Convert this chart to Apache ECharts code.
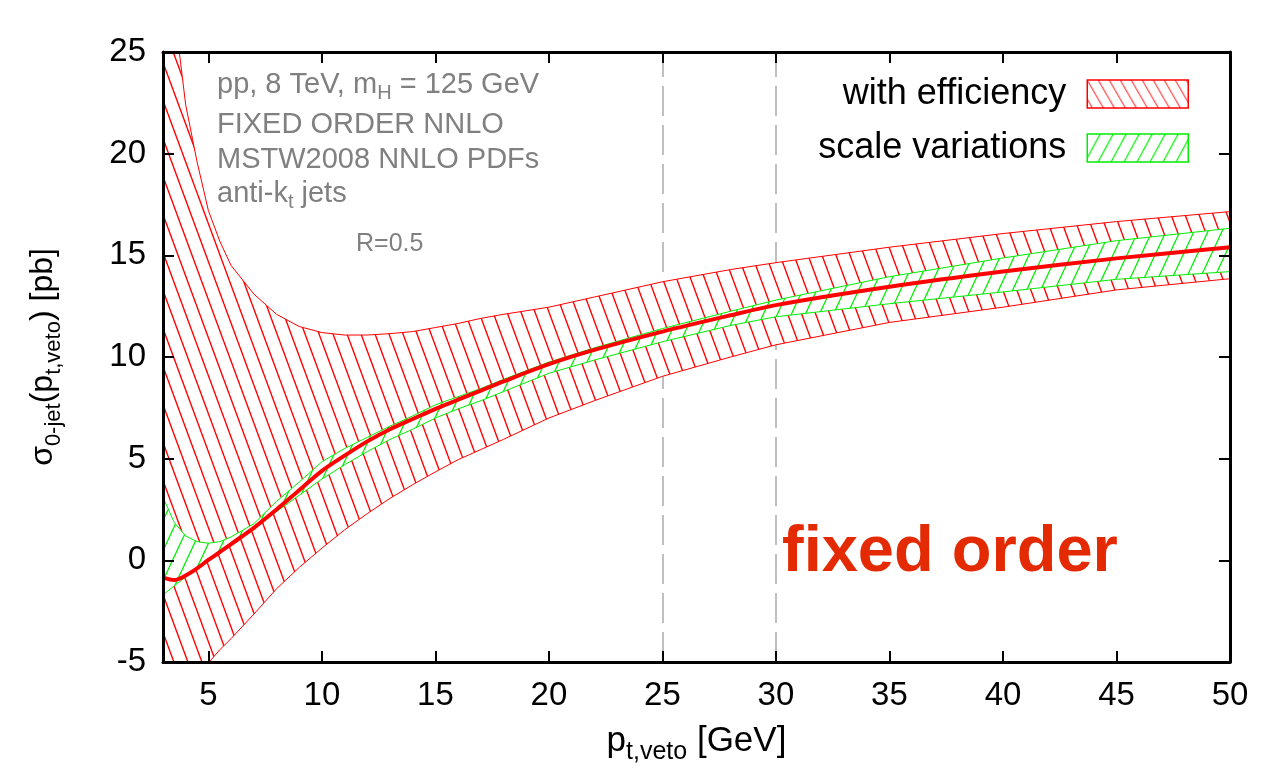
<!DOCTYPE html>
<html><head><meta charset="utf-8">
<script src="https://cdn.jsdelivr.net/npm/echarts@6/dist/echarts.min.js"></script>
<style>html,body{margin:0;padding:0;background:#fff}#c{width:1261px;height:780px}</style>
</head><body><div id="c"></div>
<script>
// ---- data ----
const ptVeto      = [3, 3.5, 4, 4.5, 5, 5.5, 6, 7, 8, 9, 10, 11, 12, 13, 14, 15, 16, 17, 18, 20, 22, 25, 28, 30, 35, 40, 45, 50];
const central     = [-0.85, -0.97, -0.75, -0.4, 0.02, 0.4, 0.8, 1.6, 2.5, 3.45, 4.4, 5.15, 5.85, 6.45, 6.95, 7.45, 7.9, 8.35, 8.8, 9.65, 10.35, 11.25, 12.05, 12.55, 13.45, 14.2, 14.85, 15.4];
const scaleUpper  = [3.1, 1.85, 1.2, 0.92, 0.84, 0.92, 1.15, 1.8, 2.9, 3.85, 4.85, 5.5, 6.05, 6.6, 7.1, 7.65, 8.05, 8.45, 8.9, 9.75, 10.45, 11.4, 12.25, 12.8, 13.95, 14.87, 15.72, 16.33];
const scaleLower  = [-1.7, -1.25, -0.82, -0.4, 0.0, 0.4, 0.85, 1.6, 2.4, 3.2, 4.0, 4.7, 5.35, 5.95, 6.45, 7.0, 7.45, 7.85, 8.3, 9.2, 9.85, 10.75, 11.55, 11.98, 12.62, 13.2, 13.82, 14.2];
const effUpper    = [32, 27, 22.4, 19.6, 17.2, 15.7, 14.5, 13.1, 12.1, 11.5, 11.2, 11.08, 11.08, 11.15, 11.25, 11.45, 11.65, 11.9, 12.1, 12.45, 12.95, 13.7, 14.3, 14.64, 15.4, 16.07, 16.66, 17.15];
const effLower    = [-8.3, -7.4, -6.6, -5.8, -5.05, -4.4, -3.85, -2.65, -1.4, -0.35, 0.6, 1.5, 2.3, 3.05, 3.72, 4.35, 4.95, 5.45, 5.95, 7.0, 7.85, 9.05, 10.0, 10.6, 11.7, 12.45, 13.3, 13.85];
const xTicks      = [5, 10, 15, 20, 25, 30, 35, 40, 45, 50];
const vetoMarks   = [25, 30];
const seriesNames = ['with efficiency', 'scale variations'];
const infoLines   = ['pp, 8 TeV, m', 'H', ' = 125 GeV', 'FIXED ORDER NNLO', 'MSTW2008 NNLO PDFs', 'anti-k', 't', ' jets', 'R=0.5'];
const bigLabel    = 'fixed order';

const FONT = '"Liberation Sans", Arial, Helvetica, sans-serif';

function hatch(color, dir, W, H, lw) {
  const c = document.createElement('canvas');
  c.width = W; c.height = H;
  const g = c.getContext('2d');
  g.fillStyle = '#fff'; g.fillRect(0, 0, W, H);
  g.strokeStyle = color; g.lineWidth = lw;
  for (let k = -1; k <= 1; k++) {
    g.beginPath();
    if (dir === '\\') { g.moveTo(k * W, 0); g.lineTo(k * W + W, H); }
    else { g.moveTo(k * W + W, 0); g.lineTo(k * W, H); }
    g.stroke();
  }
  return { image: c, repeat: 'repeat' };
}
const redPat = hatch('#ff0000', '\\', 14, 38, 1.4);
const greenPat = hatch('#00ee00', '/', 14, 30, 1.3);
const redLeg = hatch('#ff3030', '\\', 11, 19, 1.1);
const greenLeg = hatch('#00ee00', '/', 13, 24, 1.2);

function band(upper, lower, fill, stroke) {
  return function (params, api) {
    const pts = [];
    for (let i = 0; i < ptVeto.length; i++) pts.push(api.coord([ptVeto[i], upper[i]]));
    for (let i = ptVeto.length - 1; i >= 0; i--) pts.push(api.coord([ptVeto[i], lower[i]]));
    return { type: 'polygon', shape: { points: pts }, style: { fill: fill, stroke: stroke, lineWidth: 1 } };
  };
}

const chart = echarts.init(document.getElementById('c'));
const tickStyle = { inside: true, length: 11, lineStyle: { color: '#000', width: 2 } };
const lineStyleAxis = { show: true, onZero: false, lineStyle: { color: '#000', width: 3 } };
const subRich = {
  n: { fontSize: 35, lineHeight: 48, fontFamily: FONT, color: '#000' },
  s: { fontSize: 25, lineHeight: 25, verticalAlign: 'bottom', fontFamily: FONT, color: '#000' }
};

chart.setOption({
  backgroundColor: '#fff',
  animation: false,
  grid: { left: 163, right: 31, top: 52, bottom: 118 },
  xAxis: [
    { type: 'value', min: 3, max: 50, position: 'bottom', z: 10,
      axisLine: lineStyleAxis, splitLine: { show: false },
      axisTick: Object.assign({ customValues: xTicks }, tickStyle),
      axisLabel: { customValues: xTicks, fontSize: 33, color: '#000', margin: 17, fontFamily: FONT },
      name: '{n|p}{s|t,veto}{n| [GeV]}', nameLocation: 'middle', nameGap: 55,
      nameTextStyle: { fontFamily: FONT, color: '#000', rich: subRich } },
    { type: 'value', min: 3, max: 50, position: 'top', z: 10,
      axisLine: lineStyleAxis, splitLine: { show: false },
      axisTick: Object.assign({ customValues: xTicks }, tickStyle),
      axisLabel: { show: false } }
  ],
  yAxis: [
    { type: 'value', min: -5, max: 25, interval: 5, position: 'left', z: 10,
      axisLine: lineStyleAxis, splitLine: { show: false }, axisTick: tickStyle,
      axisLabel: { fontSize: 33, color: '#000', margin: 17, fontFamily: FONT },
      name: '{n|σ}{s|0-jet}{n|(p}{s|t,veto}{n|) [pb]}', nameLocation: 'middle', nameRotate: 90, nameGap: 98,
      nameTextStyle: { fontFamily: FONT, color: '#000', rich: {
        n: { fontSize: 32, lineHeight: 44, fontFamily: FONT, color: '#000' },
        s: { fontSize: 22, lineHeight: 22, verticalAlign: 'bottom', fontFamily: FONT, color: '#000' } } } },
    { type: 'value', min: -5, max: 25, interval: 5, position: 'right', z: 10,
      axisLine: lineStyleAxis, splitLine: { show: false }, axisTick: tickStyle,
      axisLabel: { show: false } }
  ],
  legend: {
    orient: 'vertical', right: 67, top: 71, align: 'right', itemWidth: 101, itemHeight: 28, itemGap: 18,
    selectedMode: false,
    textStyle: { fontSize: 36, color: '#000', fontFamily: FONT, padding: [0, 16, 0, 0] },
    data: [
      { name: seriesNames[0], icon: 'rect', itemStyle: { color: redLeg, borderColor: '#ff0000', borderWidth: 1.5 } },
      { name: seriesNames[1], icon: 'rect', itemStyle: { color: greenLeg, borderColor: '#00ee00', borderWidth: 1.5 } }
    ]
  },
  series: [
    { type: 'line', name: 'veto', data: [], z: 1, silent: true,
      markLine: { z: 1, silent: true, symbol: 'none', label: { show: false },
        lineStyle: { color: '#aaaaaa', width: 1.5, type: [30, 9] },
        data: vetoMarks.map(v => ({ xAxis: v })) } },
    { type: 'custom', name: seriesNames[0], coordinateSystem: 'cartesian2d', clip: true, z: 2, silent: true,
      itemStyle: { color: '#ff0000' }, data: [[ptVeto[0], central[0]]],
      renderItem: band(effUpper, effLower, redPat, '#ff0000') },
    { type: 'custom', name: seriesNames[1], coordinateSystem: 'cartesian2d', clip: true, z: 3, silent: true,
      itemStyle: { color: '#00ee00' }, data: [[ptVeto[0], central[0]]],
      renderItem: band(scaleUpper, scaleLower, greenPat, '#00ee00') },
    { type: 'line', name: 'central', data: ptVeto.map((x, i) => [x, central[i]]), z: 5,
      showSymbol: false, smooth: 0.3, silent: true,
      lineStyle: { color: '#ff0000', width: 4 } }
  ],
  graphic: [
    { type: 'text', left: 217, top: 70, z: 20, style: {
        text: '{n|' + infoLines[0] + '}{s|' + infoLines[1] + '}{n|' + infoLines[2] + '}',
        rich: { n: { fontSize: 29, lineHeight: 38, fontFamily: FONT, fill: '#808080' },
                s: { fontSize: 20, lineHeight: 20, verticalAlign: 'bottom', fontFamily: FONT, fill: '#808080' } } } },
    { type: 'text', left: 217, top: 110, z: 20, style: { text: infoLines[3], font: '29px ' + FONT, fill: '#808080' } },
    { type: 'text', left: 217, top: 145, z: 20, style: { text: infoLines[4], font: '29px ' + FONT, fill: '#808080' } },
    { type: 'text', left: 217, top: 179, z: 20, style: {
        text: '{n|' + infoLines[5] + '}{s|' + infoLines[6] + '}{n|' + infoLines[7] + '}',
        rich: { n: { fontSize: 29, lineHeight: 38, fontFamily: FONT, fill: '#808080' },
                s: { fontSize: 20, lineHeight: 20, verticalAlign: 'bottom', fontFamily: FONT, fill: '#808080' } } } },
    { type: 'text', left: 356, top: 232, z: 20, style: { text: infoLines[8], font: '25px ' + FONT, fill: '#808080' } },
    { type: 'text', left: 782, top: 521, z: 20, style: { text: bigLabel, font: 'bold 65px ' + FONT, fill: '#e42a02' } }
  ]
});
</script>
</body></html>
